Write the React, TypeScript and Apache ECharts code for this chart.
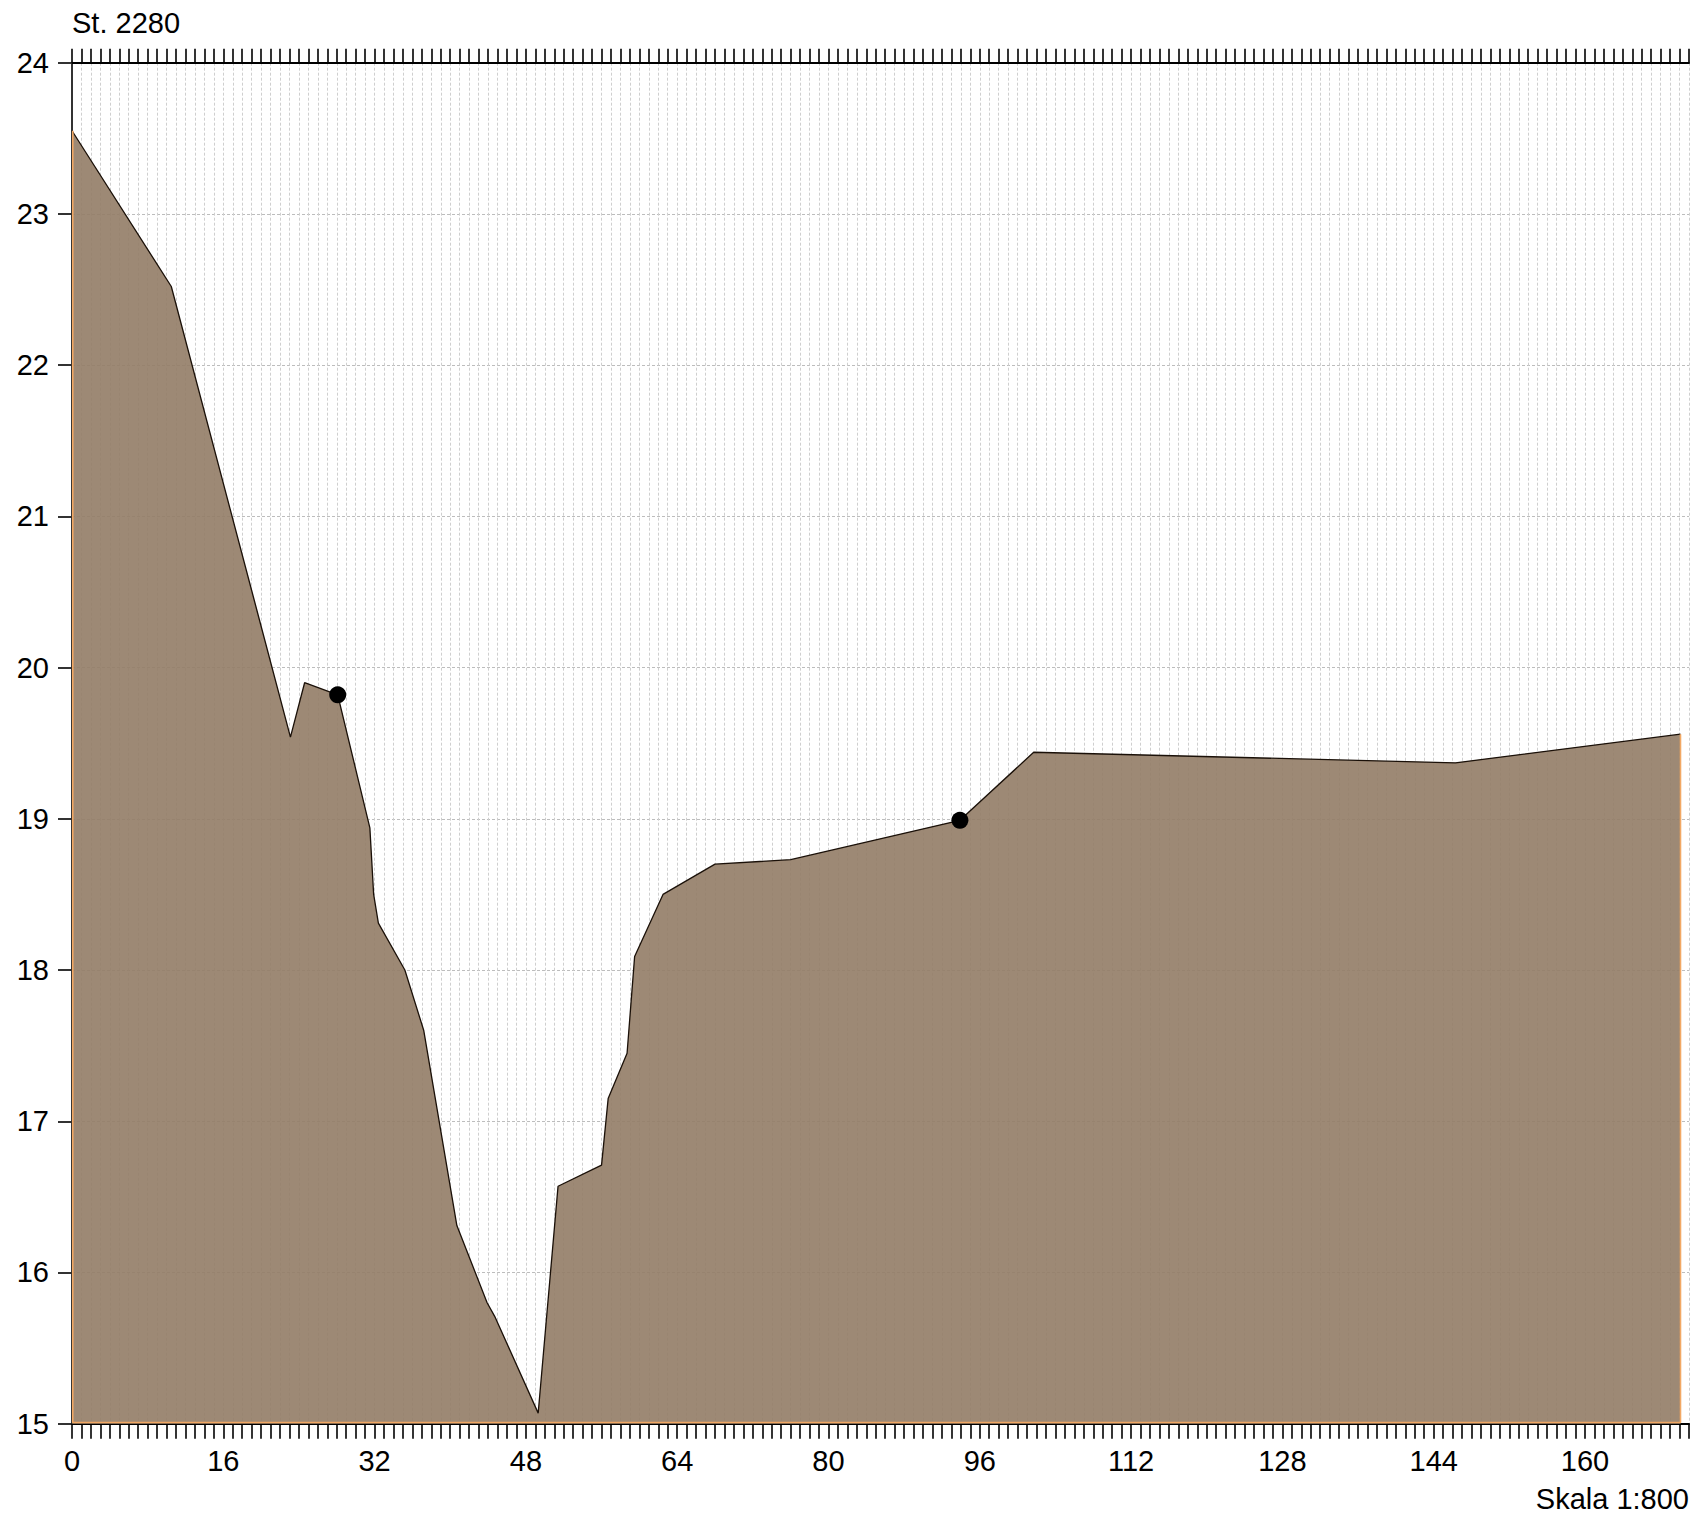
import React, { useEffect, useRef } from "react";
import * as echarts from "echarts";

const profileX = [0, 10.5, 23.1, 24.6, 28.1, 31.5, 31.9, 32.4, 35.2, 37.2, 40.7, 43.9, 44.7, 49.3, 51.4, 56.0, 56.7, 58.7, 59.5, 62.5, 68.0, 76.0, 93.9, 101.7, 146.3, 170.1];
const profileY = [23.55, 22.52, 19.54, 19.9, 19.82, 18.94, 18.5, 18.31, 18.0, 17.6, 16.31, 15.8, 15.71, 15.07, 16.57, 16.71, 17.15, 17.45, 18.09, 18.5, 18.7, 18.73, 18.99, 19.44, 19.37, 19.56];
const markerX = [28.1, 93.9];
const markerY = [19.82, 18.99];
const xMin = 0;
const xMax = 171;
const yMin = 15;
const yMax = 24;
const titleText = "St. 2280";
const scaleText = "Skala 1:800";

const FONT = "'Liberation Sans', Arial, sans-serif";

export default function App() {
  const ref = useRef<HTMLDivElement>(null);
  useEffect(() => {
    if (!ref.current) return;
    const chart = echarts.init(ref.current, undefined, { renderer: "svg" });
    const profile = profileX.map((x, i) => [x, profileY[i]]);
    const markers = markerX.map((x, i) => [x, markerY[i]]);
    const last = profile.length - 1;
    const edge = [
      [profileX[0] + 0.08, profileY[0]],
      [profileX[0] + 0.08, yMin + 0.008],
      [profileX[last], yMin + 0.008],
      [profileX[last], profileY[last]],
    ];
    const tickStyle = { color: "#000", width: 1.6 };
    chart.setOption({
      animation: false,
      backgroundColor: "#fff",
      grid: { left: 72, right: 14, top: 62.7, bottom: 98.3, containLabel: false },
      xAxis: [
        {
          type: "value",
          position: "bottom",
          min: xMin,
          max: xMax,
          interval: 16,
          axisLine: { show: true, lineStyle: { color: "#000", width: 2 } },
          axisTick: { show: false },
          splitLine: { show: false },
          axisLabel: { fontSize: 29, color: "#000", margin: 23, showMaxLabel: false, fontFamily: FONT },
        },
        {
          type: "value",
          position: "bottom",
          min: xMin,
          max: xMax,
          interval: 1,
          axisLine: { show: false },
          axisTick: { show: true, length: 15, lineStyle: tickStyle },
          axisLabel: { show: false },
          splitLine: { show: false },
        },
        {
          type: "value",
          position: "top",
          min: xMin,
          max: xMax,
          interval: 1,
          axisLine: { show: true, lineStyle: { color: "#000", width: 2 } },
          axisTick: { show: true, length: 14, lineStyle: tickStyle },
          axisLabel: { show: false },
          splitLine: { show: true, lineStyle: { color: "#cfcfcf", width: 1, type: [3, 2] } },
        },
      ],
      yAxis: [
        {
          type: "value",
          position: "left",
          min: yMin,
          max: yMax,
          interval: 1,
          axisLine: { show: true, lineStyle: { color: "#000", width: 2 } },
          axisTick: { show: true, length: 14, lineStyle: tickStyle },
          axisLabel: { fontSize: 29, color: "#000", margin: 23, fontFamily: FONT },
          splitLine: { show: true, lineStyle: { color: "#bdbdbd", width: 1, type: [3, 2] } },
        },
        {
          type: "value",
          position: "right",
          min: yMin,
          max: yMax,
          interval: 1,
          axisLine: { show: true, lineStyle: { color: "#333", width: 2 } },
          axisTick: { show: true, inside: true, length: 11, lineStyle: { color: "#333", width: 1.5 } },
          axisLabel: { show: false },
          splitLine: { show: false },
        },
      ],
      series: [
        {
          type: "line",
          data: profile,
          xAxisIndex: 0,
          yAxisIndex: 0,
          showSymbol: false,
          symbol: "none",
          lineStyle: { color: "#1a1008", width: 1.3 },
          areaStyle: { color: "rgb(146,124,102)", opacity: 0.9, origin: "start" },
          z: 2,
        },
        {
          type: "line",
          data: edge,
          xAxisIndex: 0,
          yAxisIndex: 0,
          symbol: "none",
          lineStyle: { color: "#f2a864", width: 1.6 },
          z: 3,
        },
        {
          type: "scatter",
          data: markers,
          xAxisIndex: 0,
          yAxisIndex: 0,
          symbol: "circle",
          symbolSize: 17,
          itemStyle: { color: "#000", opacity: 1 },
          z: 4,
        },
      ],
      graphic: [
        {
          type: "text",
          left: 72,
          top: 8,
          style: { text: titleText, fontSize: 29, fill: "#000", fontFamily: FONT },
        },
        {
          type: "text",
          right: 14,
          top: 1484,
          style: { text: scaleText, fontSize: 29, fill: "#000", fontFamily: FONT },
        },
      ],
    });
    return () => chart.dispose();
  }, []);
  return (
    <div
      ref={ref}
      style={{ position: "absolute", left: 0, top: 0, width: 1703, height: 1522 }}
    />
  );
}
